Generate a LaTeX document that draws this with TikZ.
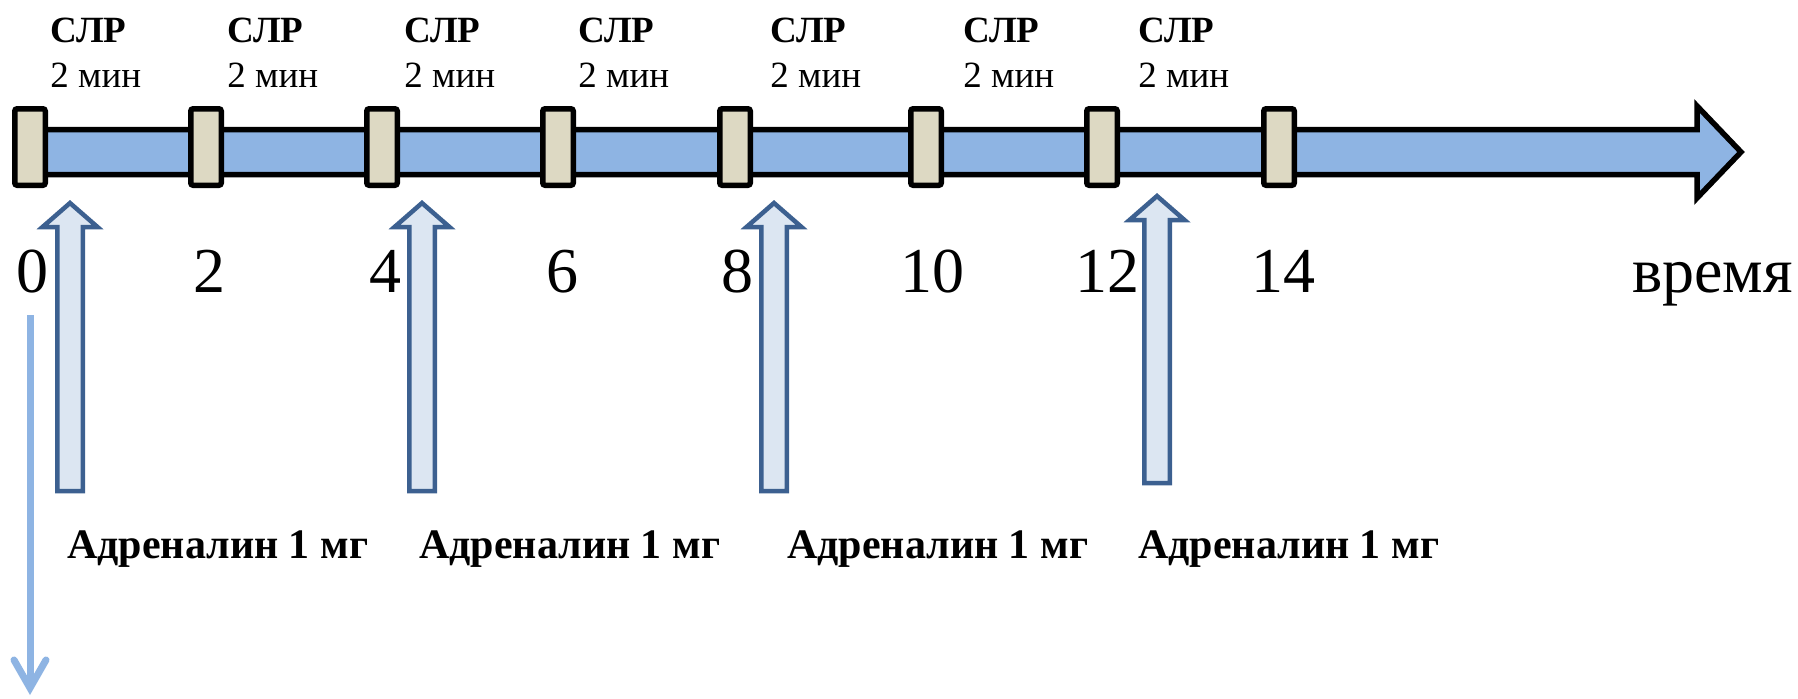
\documentclass[tikz,border=0pt]{standalone}
\usepackage{fontspec}
\setmainfont{Liberation Serif}
\usetikzlibrary{arrows.meta}
\definecolor{barfill}{HTML}{8EB4E3}
\definecolor{blockfill}{HTML}{DDD9C3}
\definecolor{upfill}{HTML}{DCE6F2}
\definecolor{upline}{HTML}{3C6090}
\begin{document}
\begin{tikzpicture}[x=0.5pt,y=-0.5pt,
  timebar/.style={draw=black, line width=2.75pt, fill=barfill, line join=miter},
  blockbox/.style={draw=black, line width=2.75pt, fill=blockfill, rounded corners=1.2pt,
    minimum width=15.25pt, minimum height=38.25pt, inner sep=0pt},
  upshape/.style={draw=upline, line width=2.25pt, fill=upfill, line join=miter},
  downline/.style={draw=barfill, line width=3.5pt, line cap=butt,
    -{Straight Barb[length=14pt 0, width=16pt 0, line cap=round]}},
  cprlabel/.style={font=\fontsize{18.5}{22}\selectfont\bfseries, anchor=base west, inner sep=0pt},
  minlabel/.style={font=\fontsize{18.5}{22}\selectfont, anchor=base west, inner sep=0pt},
  ticklabel/.style={font=\fontsize{32}{38}\selectfont, anchor=base, inner sep=0pt},
  adrlabel/.style={font=\fontsize{21}{25}\selectfont\bfseries, anchor=base west, inner sep=0pt}]
\useasboundingbox (0,0) rectangle (1798,698);
% main time arrow
\draw[timebar] (30,129.5) -- (1697,129.5) -- (1697,106) -- (1741,152) -- (1697,198)
  -- (1697,174.5) -- (30,174.5) -- cycle;
% blocks
\foreach \cx [count=\i] in {30,206,382,558,735,926,1102,1279}
  \node[blockbox] (b\i) at (\cx,147) {};
% top labels
\foreach \lx [count=\i] in {50,227,404,578,770,963,1138} {
  \node[cprlabel] (c\i) at (\lx,42) {СЛР};
  \node[minlabel] (m\i) at (\lx,87) {2 мин};
}
% tick numbers
\foreach \tx/\tt [count=\i] in {33/0,209/2,385/4,562/6,737/8,932/10,1107/12,1283/14}
  \node[ticklabel] (t\i) at (\tx,292) {\tt};
\node[ticklabel, anchor=base east] (time) at (1793,292) {время};
% up arrows
\foreach \cx/\ty/\by [count=\i] in {70/203/491,422/203/491,774/203/491,1157/196/483} {
  \pgfmathsetmacro{\hb}{\ty+24}
  \draw[upshape] ({\cx-12.75},\by) -- ({\cx-12.75},\hb) -- ({\cx-27.5},\hb) -- (\cx,\ty)
    -- ({\cx+27.5},\hb) -- ({\cx+12.75},\hb) -- ({\cx+12.75},\by) -- cycle;
}
% adrenaline labels
\foreach \ax [count=\i] in {67,419,787,1138}
  \node[adrlabel] (a\i) at (\ax,558) {Адреналин 1 мг};
% down arrow
\coordinate (d0) at (30,315);
\coordinate (d1) at (30,695);
\draw[downline] (d0) -- (d1);
\end{tikzpicture}
\end{document}
